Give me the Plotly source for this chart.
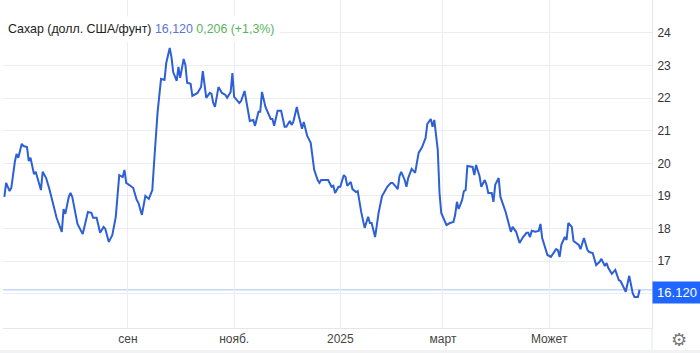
import plotly.graph_objects as go

dates = [
    "2024-06-22", "2024-06-23", "2024-06-25", "2024-06-26", "2024-06-28", "2024-06-29", "2024-06-30",
    "2024-07-02", "2024-07-03", "2024-07-05", "2024-07-06", "2024-07-07", "2024-07-09", "2024-07-10",
    "2024-07-13", "2024-07-14", "2024-07-16", "2024-07-18", "2024-07-22", "2024-07-25", "2024-07-26",
    "2024-07-27", "2024-07-29", "2024-07-30", "2024-07-31", "2024-08-03", "2024-08-06", "2024-08-09",
    "2024-08-11", "2024-08-12", "2024-08-14", "2024-08-16", "2024-08-18", "2024-08-19", "2024-08-21",
    "2024-08-23", "2024-08-25", "2024-08-27", "2024-08-29", "2024-08-30", "2024-08-31", "2024-09-03",
    "2024-09-04", "2024-09-06", "2024-09-07", "2024-09-09", "2024-09-11", "2024-09-13", "2024-09-15",
    "2024-09-16", "2024-09-18", "2024-09-20", "2024-09-22", "2024-09-23", "2024-09-25", "2024-09-26",
    "2024-09-27", "2024-09-29", "2024-09-30", "2024-10-01", "2024-10-03", "2024-10-04", "2024-10-05",
    "2024-10-07", "2024-10-08", "2024-10-11", "2024-10-13", "2024-10-14", "2024-10-16", "2024-10-18",
    "2024-10-19", "2024-10-20", "2024-10-21", "2024-10-23", "2024-10-25", "2024-10-27", "2024-10-28",
    "2024-10-30", "2024-10-31", "2024-11-01", "2024-11-04", "2024-11-05", "2024-11-07", "2024-11-10",
    "2024-11-12", "2024-11-13", "2024-11-15", "2024-11-16", "2024-11-17", "2024-11-19", "2024-11-22",
    "2024-11-23", "2024-11-24", "2024-11-26", "2024-11-28", "2024-11-30", "2024-12-01", "2024-12-03",
    "2024-12-04", "2024-12-05", "2024-12-07", "2024-12-08", "2024-12-10", "2024-12-11", "2024-12-13",
    "2024-12-15", "2024-12-17", "2024-12-19", "2024-12-20", "2024-12-21", "2024-12-25", "2024-12-27",
    "2024-12-28", "2024-12-29", "2024-12-31", "2025-01-01", "2025-01-03", "2025-01-04", "2025-01-05",
    "2025-01-07", "2025-01-08", "2025-01-10", "2025-01-11", "2025-01-13", "2025-01-15", "2025-01-17",
    "2025-01-18", "2025-01-19", "2025-01-21", "2025-01-23", "2025-01-25", "2025-01-26", "2025-01-28",
    "2025-01-30", "2025-01-31", "2025-02-02", "2025-02-03", "2025-02-04", "2025-02-05", "2025-02-07",
    "2025-02-08", "2025-02-09", "2025-02-11", "2025-02-13", "2025-02-15", "2025-02-17", "2025-02-19",
    "2025-02-20", "2025-02-22", "2025-02-23", "2025-02-24", "2025-02-26", "2025-02-27", "2025-02-28",
    "2025-03-02", "2025-03-03", "2025-03-05", "2025-03-07", "2025-03-08", "2025-03-09", "2025-03-10",
    "2025-03-12", "2025-03-13", "2025-03-14", "2025-03-15", "2025-03-18", "2025-03-19", "2025-03-20",
    "2025-03-22", "2025-03-23", "2025-03-25", "2025-03-26", "2025-03-27", "2025-03-29", "2025-03-30",
    "2025-03-31", "2025-04-02", "2025-04-03", "2025-04-04", "2025-04-06", "2025-04-09", "2025-04-10",
    "2025-04-12", "2025-04-14", "2025-04-16", "2025-04-18", "2025-04-19", "2025-04-20", "2025-04-21",
    "2025-04-23", "2025-04-25", "2025-04-26", "2025-04-27", "2025-04-30", "2025-05-02", "2025-05-05",
    "2025-05-06", "2025-05-07", "2025-05-08", "2025-05-10", "2025-05-11", "2025-05-12", "2025-05-14",
    "2025-05-15", "2025-05-18", "2025-05-19", "2025-05-21", "2025-05-23", "2025-05-24", "2025-05-26",
    "2025-05-28", "2025-05-30", "2025-05-31", "2025-06-02", "2025-06-03", "2025-06-04", "2025-06-06",
    "2025-06-08", "2025-06-10", "2025-06-11", "2025-06-14", "2025-06-16", "2025-06-18", "2025-06-19",
    "2025-06-21", "2025-06-22",
]

prices = [
    18.97, 19.40, 19.15, 19.25, 20.04, 20.29, 20.17,
    20.60, 20.53, 20.50, 20.07, 20.17, 19.67, 19.74,
    19.18, 19.74, 19.55, 19.18, 18.33, 17.90, 18.60,
    18.45, 18.97, 19.09, 18.97, 18.14, 17.83, 18.51,
    18.48, 18.33, 18.33, 17.87, 18.05, 17.99, 17.59,
    17.80, 18.36, 19.64, 19.58, 19.80, 19.40, 19.28,
    19.25, 18.88, 18.79, 18.42, 19.00, 18.91, 19.18,
    20.01, 21.55, 22.59, 22.56, 23.08, 23.54, 23.26,
    22.80, 22.53, 22.96, 22.62, 23.20, 23.02, 22.47,
    22.44, 22.07, 22.16, 22.34, 22.83, 22.01, 22.16,
    22.13, 21.85, 21.73, 22.34, 22.16, 22.10, 22.01,
    22.19, 22.77, 22.04, 21.85, 21.91, 22.22, 21.30,
    21.33, 21.15, 21.58, 21.58, 22.19, 21.73, 21.36,
    21.36, 21.15, 21.61, 21.61, 21.12, 21.12, 21.30,
    21.18, 21.27, 21.73, 21.48, 21.06, 21.27, 20.84,
    20.63, 19.80, 19.49, 19.40, 19.49, 19.49, 19.28,
    19.31, 19.09, 19.28, 19.28, 19.64, 19.58, 19.31,
    19.43, 19.21, 19.12, 19.15, 18.51, 18.02, 18.36,
    18.17, 18.17, 17.74, 18.48, 19.00, 19.09, 19.28,
    19.40, 19.40, 19.28, 19.21, 19.61, 19.74, 19.49,
    19.28, 19.55, 19.83, 19.71, 20.32, 20.50, 20.78,
    21.21, 21.36, 21.12, 21.33, 20.41, 19.09, 18.48,
    18.23, 18.11, 18.17, 18.20, 18.42, 18.82, 18.60,
    18.88, 19.15, 19.18, 19.92, 19.89, 19.64, 19.95,
    19.61, 19.28, 19.49, 19.34, 19.09, 19.09, 18.82,
    19.34, 19.55, 18.97, 18.82, 18.51, 17.90, 18.05,
    17.90, 17.56, 17.74, 17.87, 17.87, 17.74, 17.93,
    17.90, 17.93, 18.14, 17.71, 17.19, 17.13, 17.37,
    17.34, 17.13, 17.50, 17.74, 17.65, 18.17, 18.05,
    17.62, 17.50, 17.37, 17.71, 17.34, 17.28, 17.25,
    16.88, 16.98, 17.07, 16.85, 16.94, 16.79, 16.61,
    16.73, 16.42, 16.39, 16.06, 16.55, 16.02, 15.90,
    15.90, 16.12,
]

month_ticks = ["2024-09-01", "2024-11-01", "2025-01-01", "2025-03-01", "2025-05-01"]
month_labels = ["сен", "нояб.", "2025", "март", "Может"]
price_ticks = [16, 17, 18, 19, 20, 21, 22, 23, 24]
price_labels = ["", "17", "18", "19", "20", "21", "22", "23", "24"]

last_price = 16.120
title_name = "Сахар (долл. США/фунт)"
title_price = "16,120"
title_change = "0,206 (+1,3%)"

FONT = "Arial, 'Liberation Sans', sans-serif"
LINE = "#2d5fd6"
GRID = "#ebedf0"

fig = go.Figure()
fig.add_trace(go.Scatter(
    x=dates, y=prices, mode="lines",
    line=dict(color=LINE, width=2), hoverinfo="skip", showlegend=False,
))

fig.add_shape(type="line", xref="paper", x0=0, x1=1, yref="y", y0=last_price, y1=last_price,
              line=dict(color="#a9c2f5", width=1), layer="below")
# right border extension and bottom band
fig.add_shape(type="line", xref="paper", x0=1, x1=1, yref="paper", y0=0, y1=-0.067,
              line=dict(color="#e4e6ea", width=1))
fig.add_shape(type="rect", xref="paper", x0=-0.01, x1=1.08, yref="paper", y0=-0.067, y1=-0.09,
              fillcolor="#f1f2f4", line=dict(width=0))

fig.add_annotation(
    xref="paper", yref="paper", x=-0.0015, y=1 - 29 / 328, xanchor="left", yanchor="middle",
    text=(f'<span style="color:#222">{title_name}</span> '
          f'<span style="color:#5676d3">{title_price}</span> '
          f'<span style="color:#59b35c">{title_change}</span>'),
    showarrow=False, font=dict(family=FONT, size=12.4), bgcolor="white", borderpad=5,
)
fig.add_annotation(
    xref="paper", yref="y", x=1, y=last_price, xanchor="left", yanchor="middle",
    text="16.120", showarrow=False, font=dict(family=FONT, size=13, color="white"),
    bgcolor="#1f66ff", width=46, height=19, borderpad=1, yshift=-3,
)
fig.add_annotation(
    xref="paper", yref="paper", x=1 + 27 / 649, y=-11 / 328, xanchor="center", yanchor="middle",
    text="⚙", showarrow=False, font=dict(family="DejaVu Sans", size=18, color="#777777"),
)

fig.update_layout(
    width=700, height=353,
    margin=dict(l=3, r=48, t=0, b=25),
    paper_bgcolor="white", plot_bgcolor="white",
    font=dict(family=FONT, size=12, color="#333"),
    xaxis=dict(
        range=["2024-06-21 05:00", "2025-06-29 02:00"],
        tickvals=month_ticks, ticktext=month_labels,
        showgrid=True, gridcolor=GRID, gridwidth=1,
        showline=True, linecolor="#e4e6ea", linewidth=1,
        ticks="", tickfont=dict(size=12, color="#444"),
        zeroline=False, fixedrange=True,
    ),
    yaxis=dict(
        range=[14.95, 25.01], side="right",
        tickvals=price_ticks, ticktext=price_labels,
        showgrid=True, gridcolor=GRID, gridwidth=1,
        showline=True, linecolor="#e4e6ea", linewidth=1,
        ticks="outside", ticklen=2, tickcolor="rgba(0,0,0,0)",
        tickfont=dict(size=12, color="#333"), zeroline=False, fixedrange=True,
    ),
)

fig.write_html("out.html")
